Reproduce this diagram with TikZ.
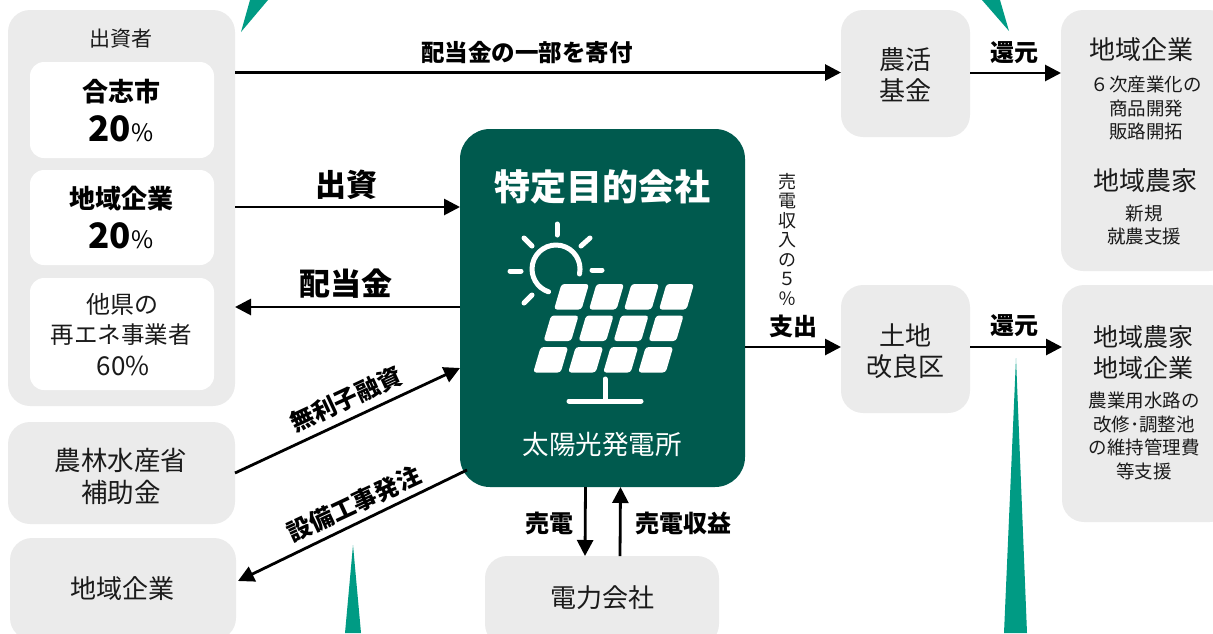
\documentclass[tikz,border=0pt]{standalone}
\usepackage{fontspec}
\setmainfont{Noto Sans CJK JP}
\usetikzlibrary{arrows.meta}

\definecolor{boxgray}{HTML}{EBEBEB}
\definecolor{spcgreen}{HTML}{005A4E}
\definecolor{spire}{HTML}{009B84}
\definecolor{ink}{HTML}{1A1A1A}

\newcommand{\fs}[2]{\fontsize{#1pt}{#2pt}\selectfont}

\tikzset{
	panel/.style={fill=boxgray, anchor=north west, inner sep=0pt, outer sep=0pt, rounded corners=22pt},
	card/.style={fill=white, anchor=north west, inner sep=0pt, outer sep=0pt, rounded corners=14pt},
	txt/.style={inner sep=0pt, outer sep=0pt, align=center, text=ink},
	big/.style={txt, font=\fs{26}{31}},
	small/.style={txt, font=\fs{18.5}{23.5}},
	flowlabel/.style={txt, font=\fs{23.5}{28}\bfseries, text=black},
	flow/.style={line width=2.8pt, -{Triangle[length=16pt,width=16pt]}},
	icon/.style={draw=white, line width=5pt, line cap=round},
}

\begin{document}
\begin{tikzpicture}[x=1pt, y=-1pt]
	\useasboundingbox (0,0) rectangle (1213,633);

	\node[panel, minimum width=227, minimum height=396] (investor) at (8,10) {};
	\node[card, minimum width=184, minimum height=96] (city) at (30,62) {};
	\node[card, minimum width=184, minimum height=95] (firm) at (30,170) {};
	\node[card, minimum width=184, minimum height=112] (other) at (30,278) {};
	\node[panel, minimum width=227, minimum height=102] (grant) at (8,422) {};
	\node[panel, minimum width=226, minimum height=102] (local) at (10,538) {};
	\node[panel, minimum width=234, minimum height=90] (power) at (485,556) {};
	\node[panel, fill=spcgreen, rounded corners=30pt, minimum width=285, minimum height=358] (spc) at (460,129) {};
	\node[panel, minimum width=129, minimum height=127] (fund) at (841,10) {};
	\node[panel, minimum width=129, minimum height=128] (land) at (841,285) {};
	\node[panel, minimum width=170, minimum height=261] (upper) at (1061,10) {};
	\node[panel, minimum width=170, minimum height=237] (lower) at (1062,285) {};

	\fill[spire] (241,32) -- (250,0) -- (268,0) -- cycle;
	\fill[spire] (1009,31) -- (982,0) -- (1000,0) -- cycle;
	\fill[spire] (353,545) -- (345,633) -- (361,633) -- cycle;
	\fill[spire] (1016,358) -- (1004,633) -- (1027,633) -- cycle;

	\node[txt, font=\fs{21}{25}] (investortitle) at (121,39) {出資者};
	\node[big, font=\fs{26}{31}\bfseries, text=black] (cityname) at (121,92) {合志市};
	\node[txt, text=black] (cityshare) at (121,129) {\fs{35}{38}\bfseries 20\fs{24}{38}\mdseries\%};
	\node[big, font=\fs{26}{31}\bfseries, text=black] (firmname) at (121,199) {地域企業};
	\node[txt, text=black] (firmshare) at (121,236) {\fs{35}{38}\bfseries 20\fs{24}{38}\mdseries\%};
	\node[txt, font=\fs{24}{31.5}] (otherstitle) at (122,304) {他県の};
	\node[txt, font=\fs{23.5}{31.5}] (othersname) at (121,335) {再エネ事業者};
	\node[txt, font=\fs{26}{31.5}] (othersshare) at (123,366) {60\%};
	\node[big, font=\fs{26.5}{32}] (granttext) at (121,476) {農林水産省\\補助金};
	\node[big] (localtext) at (122,589) {地域企業};
	\node[big] (powertext) at (602,598) {電力会社};
	\node[big] (fundtext) at (905,75) {農活\\基金};
	\node[big] (landtext) at (905,351) {土地\\改良区};
	\node[big] (uppertitle) at (1141,50) {地域企業};
	\node[small] (uppernote) at (1146,108) {６次産業化の\\商品開発\\販路開拓};
	\node[big] (uppertitlemid) at (1145,181) {地域農家};
	\node[small] (uppernotemid) at (1144,225) {新規\\就農支援};
	\node[big, font=\fs{25}{31}] (lowertitle) at (1143,352) {地域農家\\地域企業};
	\node[small] (lowernote) at (1144,436) {農業用水路の\\改修･調整池\\の維持管理費\\等支援};

	\node[txt, text=white, font=\fs{36}{40}\bfseries] (spctitle) at (602,187) {特定目的会社};
	\node[txt, text=white, font=\fs{26.5}{30}] (spcnote) at (602,444) {太陽光発電所};

	\draw[icon] (579.5,274) arc[start angle=12, end angle=-252, radius=24];
	\draw[icon] (557,224) -- (557,235);
	\draw[icon] (510,271) -- (521,271);
	\draw[icon] (592,270) -- (602,270);
	\draw[icon] (524,238) -- (532,246);
	\draw[icon] (590,238) -- (581,246);
	\draw[icon] (532,295) -- (524,303);
	\foreach \r in {0,1,2} {
		\foreach \c in {0,1,2,3} {
			\fill[white, rounded corners=3pt, shift={(35*\c-10.4*\r,31.5*\r)}]
				(561.5,284) -- (589,284) -- (581.5,309.5) -- (554,309.5) -- cycle;
		}
	}
	\draw[icon] (605,379) -- (605,400);
	\draw[icon] (569,401) -- (641,401);

	\draw[flow] (investor.east |- 0,72.5) -- (fund.west |- 0,72.5);
	\draw[flow] (investor.east |- 0,207) -- (spc.west |- 0,207);
	\draw[flow] (spc.west |- 0,307) -- (investor.east |- 0,307);
	\draw[flow] (grant.east) -- (spc.west |- 0,368);
	\draw[flow] ([shift={(7,-17)}]spc.south west) -- ([xshift=2pt]local.east |- 0,581);
	\draw[flow] ([xshift=-17pt]spc.south) -- ([xshift=-17pt]power.north);
	\draw[flow] ([xshift=18pt]power.north) -- ([xshift=18pt]spc.south);
	\draw[flow] (spc.east |- 0,347) -- (land.west |- 0,347);
	\draw[flow] (fund.east |- 0,73) -- (upper.west |- 0,73);
	\draw[flow] (land.east |- 0,347) -- (lower.west |- 0,347);

	\node[flowlabel] (donatelabel) at (527,53) {配当金の一部を寄付};
	\node[flowlabel, font=\fs{31}{34}\bfseries] (investlabel) at (346,185) {出資};
	\node[flowlabel, font=\fs{31}{34}\bfseries] (dividendlabel) at (346,284) {配当金};
	\node[flowlabel, rotate=25, font=\fs{24}{28}\bfseries] (loanlabel) at (346,399) {無利子融資};
	\node[flowlabel, rotate=25, font=\fs{24}{28}\bfseries] (orderlabel) at (354,504) {設備工事発注};
	\node[flowlabel, font=\fs{24}{28}\bfseries] (selllabel) at (549,523) {売電};
	\node[flowlabel, font=\fs{24}{28}\bfseries] (incomelabel) at (683,523) {売電収益};
	\node[flowlabel, font=\fs{24}{28}\bfseries] (paylabel) at (793,326) {支出};
	\node[flowlabel, font=\fs{24}{28}\bfseries] (returnup) at (1014,53) {還元};
	\node[flowlabel, font=\fs{24}{28}\bfseries] (returnlow) at (1014,326) {還元};
	\node[txt, font=\fs{18}{19.5}] (sharelabel) at (787,239) {売\\電\\収\\入\\の\\５\\％};
\end{tikzpicture}
\end{document}
